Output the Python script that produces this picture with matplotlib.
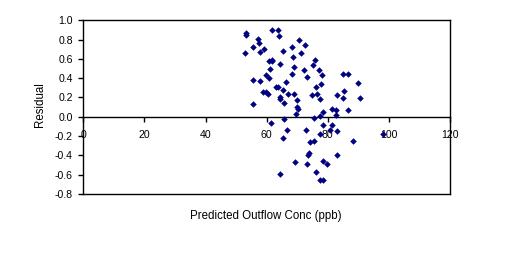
import matplotlib.pyplot as plt
import numpy as np

plt.rcParams['font.family'] = ['Liberation Sans', 'DejaVu Sans']

# predicted outflow concentration (ppb) and residuals
predicted = [53.2, 53.4, 52.8, 57.1, 57.5, 55.4, 57.7, 59.0, 61.6, 63.6,
             64.0, 70.5, 68.2, 72.4, 65.2, 68.5, 71.1, 60.9, 61.9, 61.7,
             64.3, 75.7, 75.1, 68.8, 61.0, 77.0, 72.1, 68.2, 78.0, 84.9,
             86.5, 59.7, 60.7, 73.2, 55.4, 57.7, 66.2, 77.7, 89.8, 63.0,
             63.6, 76.0, 58.7, 59.7, 60.3, 65.2, 66.9, 68.8, 74.7, 76.4,
             82.9, 85.2, 64.3, 64.3, 84.9, 90.4, 77.4, 69.8, 65.6, 55.4,
             69.8, 70.2, 78.3, 81.3, 82.6, 86.5, 69.5, 82.6, 77.4, 75.4,
             65.6, 61.3, 78.3, 81.3, 66.6, 72.8, 80.6, 82.9, 77.4, 98.0,
             65.2, 75.4, 74.1, 88.2, 74.0, 73.4, 82.9, 69.2, 73.1, 78.3,
             79.6, 76.0, 64.3, 77.4, 78.3]
residual = [0.87, 0.85, 0.66, 0.81, 0.76, 0.72, 0.67, 0.70, 0.90, 0.90,
            0.84, 0.80, 0.72, 0.74, 0.68, 0.62, 0.66, 0.58, 0.59, 0.58,
            0.55, 0.59, 0.54, 0.52, 0.50, 0.49, 0.48, 0.44, 0.43, 0.44,
            0.44, 0.43, 0.40, 0.41, 0.38, 0.37, 0.36, 0.34, 0.35, 0.31,
            0.31, 0.31, 0.26, 0.26, 0.24, 0.28, 0.24, 0.24, 0.23, 0.24,
            0.23, 0.27, 0.21, 0.18, 0.19, 0.19, 0.18, 0.17, 0.14, 0.13,
            0.10, 0.08, 0.05, 0.08, 0.07, 0.07, 0.03, 0.02, 0.01, -0.01,
            -0.02, -0.06, -0.09, -0.09, -0.14, -0.14, -0.14, -0.15, -0.18, -0.18,
            -0.22, -0.25, -0.26, -0.25, -0.38, -0.40, -0.40, -0.47, -0.49, -0.46,
            -0.49, -0.57, -0.59, -0.66, -0.65]

x_ticks = [0, 20, 40, 60, 80, 100, 120]
y_ticks = [-0.8, -0.6, -0.4, -0.2, 0.0, 0.2, 0.4, 0.6, 0.8, 1.0]
y_labels = ['-0.8', '-0.6', '-0.4', '-0.2', '0.0', '0.2', '0.4', '0.6', '0.8', '1.0']

fig = plt.figure(figsize=(5.11, 2.57), dpi=100)
ax = fig.add_axes([83.3 / 511, 1 - 194 / 257, (450 - 83.3) / 511, (194 - 20.3) / 257])

ax.scatter(predicted, residual, marker='D', s=11, color='#000080', linewidths=0, zorder=3)

ax.set_xlim(0, 120)
ax.set_ylim(-0.8, 1.0)
ax.set_xticks(x_ticks)
ax.set_yticks(y_ticks)
ax.set_yticklabels(y_labels)

# x axis crosses at zero, box closed with a line at the bottom
ax.spines['bottom'].set_position(('data', 0))
ax.plot([0, 120], [-0.8, -0.8], color='black', lw=1, clip_on=False, zorder=4)
for s in ax.spines.values():
    s.set_linewidth(1)
    s.set_color('black')

ax.tick_params(axis='both', direction='out', length=3.5, width=1, labelsize=7.6, colors='black')
ax.tick_params(axis='x', pad=6)
ax.tick_params(axis='y', pad=4)

fig.text(266 / 511, 1 - 216 / 257, 'Predicted Outflow Conc (ppb)', ha='center', va='center', fontsize=8.3)
fig.text(40 / 511, 1 - 105 / 257, 'Residual', ha='center', va='center', rotation=90, fontsize=8.3)

fig.savefig('out.png', dpi=100)
